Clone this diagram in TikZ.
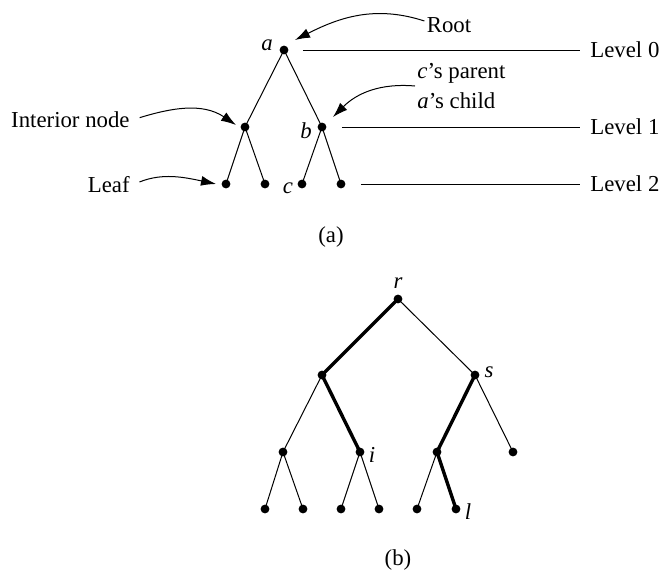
\documentclass[tikz,border=0pt]{standalone}
\usepackage{fontspec}
\setmainfont{Liberation Serif}
\usetikzlibrary{arrows.meta}

\begin{document}
\begin{tikzpicture}[x=0.5pt,y=0.5pt,font=\fontsize{11.4}{15}\selectfont,
    every node/.style={inner sep=1pt},
    edge/.style={line width=0.5pt},
    bold edge/.style={line width=1.7pt},
    callout/.style={line width=0.5pt,-{Latex[length=7.5pt,width=5pt]}}]
    \useasboundingbox (0,0) rectangle (661,-570);

    % (a) 树的顶点
    \coordinate (A) at (284,-50);
    \coordinate (N) at (245,-127);
    \coordinate (B) at (322,-127);
    \coordinate (L1) at (226,-184);
    \coordinate (L2) at (265,-184);
    \coordinate (C) at (302,-184);
    \coordinate (L3) at (341,-184);

    % 箭头的终点
    \coordinate (Rtip) at (295,-40);
    \coordinate (Ptip) at (333,-117);
    \coordinate (Ntip) at (236,-125);
    \coordinate (Ltip) at (216,-184);

    % 树的连线
    \draw[edge] (A) -- (N);
    \draw[edge] (A) -- (B);
    \draw[edge] (N) -- (L1);
    \draw[edge] (N) -- (L2);
    \draw[edge] (B) -- (C);
    \draw[edge] (B) -- (L3);

    % 文字说明
    \node (root) at (449,-25) {Root};
    \node[align=left,anchor=west] (parent) at (415,-86) {\textit{c}’s parent\\\textit{a}’s child};
    \node[anchor=east] (interior) at (132,-120) {Interior node};
    \node[anchor=east] (leaf) at (132,-185) {Leaf};
    \node[anchor=west] (lev0) at (588,-50) {Level 0};
    \node[anchor=west] (lev1) at (588,-127) {Level 1};
    \node[anchor=west] (lev2) at (588,-184) {Level 2};

    % 弯曲箭头
    \draw[callout] ([yshift=2pt]root.west) to[out=162,in=27] (Rtip);
    \draw[callout] (parent.west) to[out=175,in=45] (Ptip);
    \draw[callout,shorten <=4pt] (interior.east) to[out=17,in=146] (Ntip);
    \draw[callout,shorten <=4pt] (leaf.east) to[out=22,in=168] (Ltip);

    % 层次线
    \draw[edge] ([xshift=9.5pt]A) -- ([xshift=-4pt]lev0.west);
    \draw[edge] ([xshift=10pt]B) -- ([xshift=-4pt]lev1.west);
    \draw[edge] ([xshift=10pt]L3) -- ([xshift=-4pt]lev2.west);

    % 绘制点并标注文字
    \foreach \p in {A,N,B,L1,L2,C,L3} \fill (\p) circle (2.2pt);
    \node (la) at (267,-45) {\textit{a}};
    \node (lb) at (306,-131) {\textit{b}};
    \node (lc) at (288,-188) {\textit{c}};
    \node (capa) at (331,-237) {(a)};

    % (b) 树的顶点
    \coordinate (R) at (398,-299);
    \coordinate (P) at (322,-375);
    \coordinate (S) at (475,-375);
    \coordinate (Q1) at (283,-452);
    \coordinate (I) at (360,-452);
    \coordinate (Q3) at (437,-452);
    \coordinate (Q4) at (513,-452);
    \coordinate (M1) at (265,-509);
    \coordinate (M2) at (303,-509);
    \coordinate (M3) at (341,-509);
    \coordinate (M4) at (379,-509);
    \coordinate (M5) at (417,-509);
    \coordinate (Lf) at (456,-509);

    % 连线, 粗线为路径
    \draw[bold edge] (R) -- (P);
    \draw[edge] (R) -- (S);
    \draw[edge] (P) -- (Q1);
    \draw[bold edge] (P) -- (I);
    \draw[bold edge] (S) -- (Q3);
    \draw[edge] (S) -- (Q4);
    \draw[edge] (Q1) -- (M1);
    \draw[edge] (Q1) -- (M2);
    \draw[edge] (I) -- (M3);
    \draw[edge] (I) -- (M4);
    \draw[edge] (Q3) -- (M5);
    \draw[bold edge] (Q3) -- (Lf);

    \foreach \p in {R,P,S,Q1,I,Q3,Q4,M1,M2,M3,M4,M5,Lf} \fill (\p) circle (2.2pt);
    \node (lr) at (398,-283) {\textit{r}};
    \node (ls) at (489,-372) {\textit{s}};
    \node (li) at (372,-455) {\textit{i}};
    \node (ll) at (468,-512) {\textit{l}};
    \node (capb) at (398,-560) {(b)};

\end{tikzpicture}
\end{document}
